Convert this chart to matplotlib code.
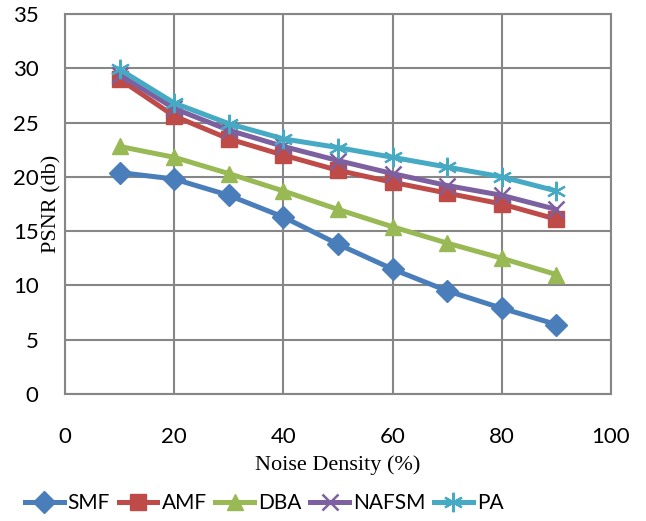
import matplotlib.pyplot as plt

noise = [10, 20, 30, 40, 50, 60, 70, 80, 90]
smf = [20.4, 19.8, 18.3, 16.3, 13.8, 11.5, 9.5, 7.9, 6.4]
amf = [29.0, 25.6, 23.5, 22.0, 20.6, 19.5, 18.5, 17.5, 16.1]
dba = [22.8, 21.8, 20.3, 18.7, 17.0, 15.4, 13.9, 12.5, 11.0]
nafsm = [29.4, 26.3, 24.3, 22.8, 21.5, 20.3, 19.2, 18.3, 17.0]
pa = [29.9, 26.8, 24.9, 23.5, 22.7, 21.8, 20.9, 20.0, 18.7]

names = ['SMF', 'AMF', 'DBA', 'NAFSM', 'PA']
colors = ['#4a7ebb', '#be4b48', '#98b954', '#7d60a0', '#46aac5']
markers = ['D', 's', '^', 'x', '*']

sans = ['Lato', 'DejaVu Sans']
serif = ['Liberation Serif', 'DejaVu Serif']

fig = plt.figure(figsize=(6.46, 5.21), dpi=100)
ax = fig.add_axes([65 / 646, 127 / 521, 546 / 646, 380 / 521])

series = [smf, amf, dba, nafsm, pa]
for vals, name, c, m in zip(series, names, colors, markers):
    if m == '*':
        # asterisk-like marker
        ax.plot(noise, vals, color=c, lw=3.6, marker=(6, 2, 0), ms=14, mew=1.6, label=name)
    elif m == 'x':
        ax.plot(noise, vals, color=c, lw=3.6, marker='x', ms=11, mew=1.8, label=name)
    else:
        ms = 11 if m != '^' else 12
        ax.plot(noise, vals, color=c, lw=3.6, marker=m, ms=ms, label=name)

ax.set_xlim(0, 100)
ax.set_ylim(0, 35)
ax.set_xticks(range(0, 101, 20))
ax.set_yticks(range(0, 36, 5))
ax.grid(True, color='#868686', lw=1.5)
ax.set_axisbelow(True)
for s in ax.spines.values():
    s.set_color('#868686')
    s.set_linewidth(1.5)
ax.tick_params(axis='x', length=0, labelsize=16, pad=24)
ax.tick_params(axis='y', length=0, labelsize=16, pad=19)
for lab in ax.get_xticklabels() + ax.get_yticklabels():
    lab.set_family(sans)

ax.set_xlabel('Noise Density (%)', family=serif, fontsize=16, labelpad=6)
ax.set_ylabel('PSNR (db)', family=serif, fontsize=16)
ax.yaxis.set_label_coords(-0.006, 0.5)

leg = ax.legend(loc='center left', bbox_to_anchor=(-40 / 546, -0.287), ncol=5, frameon=False,
                prop={'family': sans, 'size': 15}, handlelength=1.85,
                handletextpad=0.2, columnspacing=0.42, borderaxespad=0, borderpad=0)

fig.savefig('out.png', dpi=100)
